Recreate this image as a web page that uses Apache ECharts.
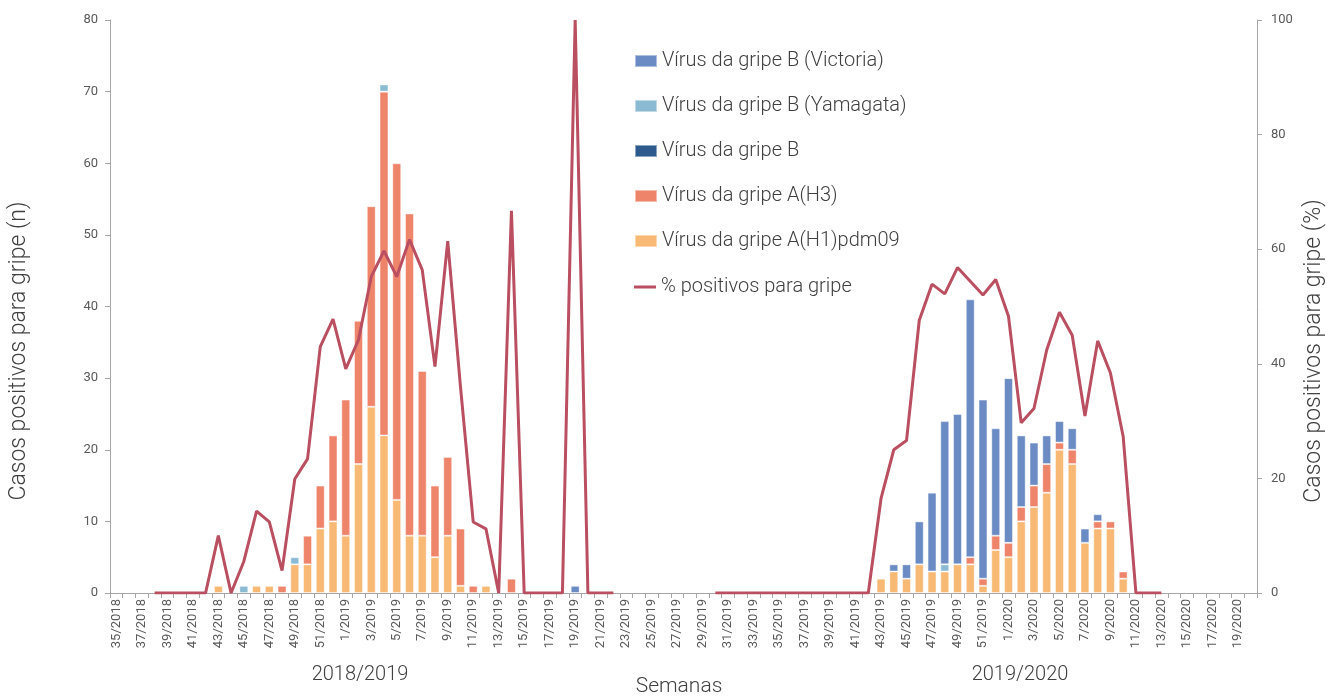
<!DOCTYPE html>
<html>
<head>
<meta charset="utf-8">
<script src="https://cdn.jsdelivr.net/npm/echarts@6/dist/echarts.min.js"></script>
<style>html,body{margin:0;padding:0;background:#fff}#c{width:1338px;height:697px}</style>
</head>
<body>
<div id="c"></div>
<script>
// categories: weeks 35/2018 .. 20/2020
const weeks = [];
for (let w = 35; w <= 52; w++) weeks.push(w + '/2018');
for (let w = 1; w <= 52; w++) weeks.push(w + '/2019');
for (let w = 1; w <= 20; w++) weeks.push(w + '/2020');

const seriesNames = [
  'Vírus da gripe B (Victoria)',
  'Vírus da gripe B (Yamagata)',
  'Vírus da gripe B',
  'Vírus da gripe A(H3)',
  'Vírus da gripe A(H1)pdm09',
  '% positivos para gripe'
];

const h1pdm09 = [
  0,0,0,0,0,0,0,0,1,0,
  0,1,1,0,4,4,9,10,8,18,
  26,22,13,8,8,5,8,1,0,1,
  0,0,0,0,0,0,0,0,0,0,
  0,0,0,0,0,0,0,0,0,0,
  0,0,0,0,0,0,0,0,0,0,
  2,3,2,4,3,3,4,4,1,6,
  5,10,12,14,20,18,7,9,9,2,
  0,0,0,0,0,0,0,0,0,0
];
const h3 = [
  0,0,0,0,0,0,0,0,0,0,
  0,0,0,1,0,4,6,12,19,20,
  28,48,47,45,23,10,11,8,1,0,
  0,2,0,0,0,0,0,0,0,0,
  0,0,0,0,0,0,0,0,0,0,
  0,0,0,0,0,0,0,0,0,0,
  0,0,0,0,0,0,0,1,1,2,
  2,2,3,4,1,2,0,1,1,1,
  0,0,0,0,0,0,0,0,0,0
];
const bUnspec = [
  0,0,0,0,0,0,0,0,0,0,
  0,0,0,0,0,0,0,0,0,0,
  0,0,0,0,0,0,0,0,0,0,
  0,0,0,0,0,0,0,0,0,0,
  0,0,0,0,0,0,0,0,0,0,
  0,0,0,0,0,0,0,0,0,0,
  0,0,0,0,0,0,0,0,0,0,
  0,0,0,0,0,0,0,0,0,0,
  0,0,0,0,0,0,0,0,0,0
];
const bYamagata = [
  0,0,0,0,0,0,0,0,0,0,
  1,0,0,0,1,0,0,0,0,0,
  0,1,0,0,0,0,0,0,0,0,
  0,0,0,0,0,0,0,0,0,0,
  0,0,0,0,0,0,0,0,0,0,
  0,0,0,0,0,0,0,0,0,0,
  0,0,0,0,0,1,0,0,0,0,
  0,0,0,0,0,0,0,0,0,0,
  0,0,0,0,0,0,0,0,0,0
];
const bVictoria = [
  0,0,0,0,0,0,0,0,0,0,
  0,0,0,0,0,0,0,0,0,0,
  0,0,0,0,0,0,0,0,0,0,
  0,0,0,0,0,0,1,0,0,0,
  0,0,0,0,0,0,0,0,0,0,
  0,0,0,0,0,0,0,0,0,0,
  0,1,2,6,11,20,21,36,25,15,
  23,10,6,4,3,3,2,1,0,0,
  0,0,0,0,0,0,0,0,0,0
];
const pctPositive = [
  null,null,null,0,0,0,0,0,10,0,
  5.5,14.3,12.4,3.9,19.9,23.4,43,47.8,39.1,44.2,
  55.2,59.7,55.2,61.7,56.4,39.5,61.4,36,12.4,11.2,
  0,66.7,0,0,0,0,100,0,0,0,
  null,null,null,null,null,null,null,0,0,0,
  0,0,0,0,0,0,0,0,0,0,
  16.5,25,26.6,47.6,53.9,52.2,56.8,54.4,52,54.7,
  48.3,29.7,32.2,42.4,49,45,30.9,44,38.4,27.3,
  0,0,0,null,null,null,null,null,null,null
];

const leftTicks = [0, 80, 10];
const rightTicks = [0, 100, 20];
const seasonLabels = ['2018/2019', '2019/2020'];
const xTitle = 'Semanas';
const yTitleLeft = 'Casos positivos para gripe (n)';
const yTitleRight = 'Casos positivos para gripe (%)';

const FONT = 'Roboto';
const colors = ['#6A8BC3', '#8BBBD3', '#2E5B8E', '#EE846A', '#F7B974', '#B94F60'];
const nz = a => a.map(v => (v === 0 ? '-' : v));

function barSeries(name, data, color) {
  return {
    name, type: 'bar', stack: 'total', data: nz(data),
    barCategoryGap: '30%',
    itemStyle: { color, borderColor: 'rgba(255,255,255,0.45)', borderWidth: 1 },
    emphasis: { disabled: true }
  };
}

const legendText = { fontSize: 20, color: '#404040', fontFamily: FONT, fontWeight: 300, lineHeight: 22 };

const chart = echarts.init(document.getElementById('c'));
chart.setOption({
  animation: false,
  textStyle: { fontFamily: FONT },
  grid: { left: 110, right: 81, top: 20, bottom: 104, containLabel: false },
  legend: [
    {
      orient: 'vertical', left: 629, top: 45, padding: 5,
      itemWidth: 22, itemHeight: 12, itemGap: 23,
      data: seriesNames.slice(0, 5).map(n => ({ name: n, icon: 'rect' })),
      textStyle: legendText,
      selectedMode: false
    },
    {
      orient: 'vertical', left: 629, top: 271, padding: 5,
      itemWidth: 22, itemHeight: 3,
      data: [{ name: seriesNames[5], icon: 'rect' }],
      textStyle: legendText,
      selectedMode: false
    }
  ],
  xAxis: {
    type: 'category', data: weeks,
    axisLine: { lineStyle: { color: '#A6A6A6', width: 1 } },
    axisTick: { show: true, interval: 0, length: 5, lineStyle: { color: '#A6A6A6' } },
    axisLabel: { interval: 1, rotate: 90, fontSize: 13, color: '#595959', margin: 6, fontFamily: FONT }
  },
  yAxis: [
    {
      type: 'value', min: leftTicks[0], max: leftTicks[1], interval: leftTicks[2],
      splitLine: { show: false },
      axisLine: { show: true, lineStyle: { color: '#A6A6A6' } },
      axisTick: { show: true, length: 5, lineStyle: { color: '#A6A6A6' } },
      axisLabel: { fontSize: 13, color: '#595959', margin: 12 }
    },
    {
      type: 'value', min: rightTicks[0], max: rightTicks[1], interval: rightTicks[2],
      position: 'right',
      splitLine: { show: false },
      axisLine: { show: true, lineStyle: { color: '#A6A6A6' } },
      axisTick: { show: true, length: 5, lineStyle: { color: '#A6A6A6' } },
      axisLabel: { fontSize: 13, color: '#595959', margin: 14 }
    }
  ],
  series: [
    barSeries(seriesNames[4], h1pdm09, colors[4]),
    barSeries(seriesNames[3], h3, colors[3]),
    barSeries(seriesNames[2], bUnspec, colors[2]),
    barSeries(seriesNames[1], bYamagata, colors[1]),
    barSeries(seriesNames[0], bVictoria, colors[0]),
    {
      name: seriesNames[5], type: 'line', yAxisIndex: 1, data: pctPositive,
      symbol: 'none', connectNulls: false,
      lineStyle: { color: colors[5], width: 3 },
      itemStyle: { color: colors[5] },
      emphasis: { disabled: true }
    }
  ],
  graphic: [
    { type: 'text', x: 360, y: 675, style: { text: seasonLabels[0], fontSize: 20, fill: '#404040', fontFamily: FONT, fontWeight: 300, align: 'center', verticalAlign: 'middle' } },
    { type: 'text', x: 1020, y: 675, style: { text: seasonLabels[1], fontSize: 20, fill: '#404040', fontFamily: FONT, fontWeight: 300, align: 'center', verticalAlign: 'middle' } },
    { type: 'text', x: 679, y: 687, style: { text: xTitle, fontSize: 21, fill: '#404040', fontFamily: FONT, fontWeight: 300, align: 'center', verticalAlign: 'middle' } },
    { type: 'text', x: 19, y: 351, rotation: Math.PI / 2, style: { text: yTitleLeft, fontSize: 23, fill: '#404040', fontFamily: FONT, fontWeight: 300, align: 'center', verticalAlign: 'middle' } },
    { type: 'text', x: 1314, y: 351, rotation: Math.PI / 2, style: { text: yTitleRight, fontSize: 23, fill: '#404040', fontFamily: FONT, fontWeight: 300, align: 'center', verticalAlign: 'middle' } }
  ]
});
</script>
</body>
</html>
